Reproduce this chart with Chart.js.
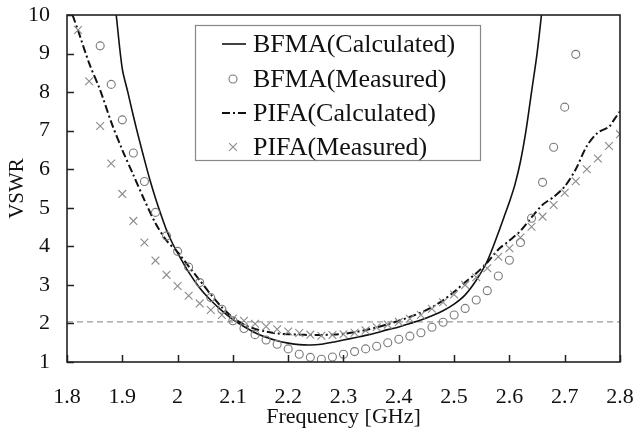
<!DOCTYPE html>
<html><head><meta charset="utf-8">
<script src="https://cdn.jsdelivr.net/npm/chart.js@4/dist/chart.umd.min.js"></script>
<style>html,body{margin:0;padding:0;background:#fff;}canvas{display:block;}</style>
</head><body>
<canvas id="c" width="637" height="434"></canvas>
<script>
const xTickValues = [1.8,1.9,2.0,2.1,2.2,2.3,2.4,2.5,2.6,2.7,2.8];
const xTickLabels = ['1.8','1.9','2','2.1','2.2','2.3','2.4','2.5','2.6','2.7','2.8'];
const yTickValues = [1,2,3,4,5,6,7,8,9,10];
const yTickLabels = ['1','2','3','4','5','6','7','8','9','10'];
const seriesLabels = ['BFMA(Calculated)','BFMA(Measured)','PIFA(Calculated)','PIFA(Measured)'];
const xTitle = 'Frequency [GHz]';
const yTitle = 'VSWR';

const bfmaCalcFreq = [1.889,1.90,1.91,1.92,1.93,1.94,1.95,1.96,1.97,1.98,1.99,2.00,2.02,2.04,2.06,2.08,2.10,2.12,2.14,2.16,2.18,2.20,2.22,2.24,2.26,2.28,2.30,2.32,2.34,2.36,2.38,2.40,2.42,2.44,2.46,2.48,2.50,2.52,2.54,2.56,2.58,2.59,2.60,2.61,2.62,2.63,2.64,2.65,2.658];
const bfmaCalcVswr = [10.0,8.6,8.0,7.38,6.8,6.25,5.72,5.25,4.82,4.42,4.1,3.83,3.33,2.92,2.6,2.33,2.1,1.92,1.76,1.64,1.55,1.49,1.45,1.44,1.46,1.51,1.57,1.63,1.69,1.76,1.84,1.91,2.0,2.09,2.2,2.33,2.5,2.74,3.12,3.62,4.35,4.75,5.15,5.6,6.2,7.0,8.0,9.0,10.0];

const bfmaMeasFreq = [1.86,1.88,1.90,1.92,1.94,1.96,1.98,2.00,2.02,2.04,2.06,2.08,2.10,2.12,2.14,2.16,2.18,2.20,2.22,2.24,2.26,2.28,2.30,2.32,2.34,2.36,2.38,2.40,2.42,2.44,2.46,2.48,2.50,2.52,2.54,2.56,2.58,2.60,2.62,2.64,2.66,2.68,2.70,2.72];
const bfmaMeasVswr = [9.2,8.2,7.28,6.42,5.68,4.88,4.27,3.87,3.46,3.06,2.67,2.37,2.07,1.87,1.71,1.57,1.46,1.34,1.2,1.12,1.07,1.13,1.2,1.27,1.34,1.41,1.5,1.59,1.67,1.76,1.9,2.03,2.22,2.39,2.61,2.85,3.23,3.64,4.1,4.73,5.66,6.57,7.61,8.98];

const pifaCalcFreq = [1.81,1.82,1.84,1.86,1.88,1.90,1.92,1.94,1.96,1.98,2.00,2.02,2.04,2.06,2.08,2.10,2.12,2.14,2.16,2.18,2.20,2.22,2.24,2.26,2.28,2.30,2.32,2.34,2.36,2.38,2.40,2.42,2.44,2.46,2.48,2.50,2.52,2.54,2.56,2.58,2.60,2.62,2.64,2.66,2.68,2.70,2.72,2.74,2.76,2.78,2.79,2.80];
const pifaCalcVswr = [10.0,9.6,8.75,8.05,7.22,6.5,5.85,5.2,4.6,4.15,3.85,3.48,3.12,2.75,2.42,2.15,1.97,1.86,1.79,1.74,1.72,1.71,1.7,1.7,1.71,1.73,1.77,1.83,1.9,1.98,2.07,2.17,2.28,2.42,2.6,2.82,3.07,3.3,3.58,3.92,4.15,4.4,4.75,5.08,5.28,5.55,6.0,6.6,6.95,7.1,7.3,7.5];

const pifaMeasFreq = [1.82,1.84,1.86,1.88,1.90,1.92,1.94,1.96,1.98,2.00,2.02,2.04,2.06,2.08,2.10,2.12,2.14,2.16,2.18,2.20,2.22,2.24,2.26,2.28,2.30,2.32,2.34,2.36,2.38,2.40,2.42,2.44,2.46,2.48,2.50,2.52,2.54,2.56,2.58,2.60,2.62,2.64,2.66,2.68,2.70,2.72,2.74,2.76,2.78,2.80];
const pifaMeasVswr = [9.61,8.28,7.12,6.15,5.36,4.66,4.1,3.63,3.26,2.97,2.72,2.52,2.35,2.22,2.13,2.07,1.99,1.92,1.85,1.79,1.75,1.71,1.68,1.7,1.72,1.76,1.82,1.9,1.97,2.04,2.12,2.22,2.38,2.55,2.75,3.0,3.2,3.43,3.73,3.95,4.23,4.51,4.77,5.07,5.39,5.69,6.0,6.28,6.6,6.91];

const refLineFreq = [1.8, 2.8];
const refLineVswr = [2.04, 2.04];

const FONT = 'Liberation Serif';
const toXY = (xs, ys) => xs.map((x, i) => ({x: x, y: ys[i]}));

const decorPlugin = {
  id: 'decor',
  afterDraw(chart) {
    const ctx = chart.ctx;
    const a = chart.chartArea;
    const xs = chart.scales.x, ys = chart.scales.y;
    ctx.save();
    ctx.strokeStyle = '#222';
    ctx.lineWidth = 1.5;
    ctx.beginPath();
    xTickValues.forEach(v => {
      const px = Math.round(xs.getPixelForValue(v)) + 0.5;
      ctx.moveTo(px, a.bottom); ctx.lineTo(px, a.bottom - 7);
    });
    yTickValues.forEach(v => {
      const py = Math.round(ys.getPixelForValue(v)) + 0.5;
      ctx.moveTo(a.left, py); ctx.lineTo(a.left + 7, py);
    });
    ctx.stroke();
    ctx.strokeStyle = '#222';
    ctx.lineWidth = 1.6;
    ctx.strokeRect(a.left, a.top, a.right - a.left, a.bottom - a.top);
    // legend
    const bx = 195, by = 25, bw = 285, bh = 135;
    ctx.fillStyle = '#fff';
    ctx.fillRect(bx, by, bw, bh);
    ctx.strokeStyle = '#888';
    ctx.lineWidth = 1.2;
    ctx.strokeRect(bx + 0.5, by + 0.5, bw, bh);
    const rows = [44, 79, 113, 147];
    ctx.font = '26px "' + FONT + '"';
    ctx.textBaseline = 'middle';
    ctx.textAlign = 'left';
    chart.data.datasets.slice(0, 4).forEach((ds, i) => {
      const ry = rows[i];
      ctx.save();
      if (ds.showLine) {
        ctx.strokeStyle = ds.borderColor;
        ctx.lineWidth = ds.borderWidth;
        ctx.setLineDash(ds.borderDash || []);
        ctx.beginPath();
        ctx.moveTo(222, ry); ctx.lineTo(246, ry);
        ctx.stroke();
      } else {
        ctx.strokeStyle = ds.pointBorderColor;
        ctx.lineWidth = ds.pointBorderWidth;
        ctx.beginPath();
        if (ds.pointStyle === 'circle') {
          ctx.arc(233, ry, ds.pointRadius, 0, Math.PI * 2);
        } else {
          const r = ds.pointRadius * Math.SQRT1_2;
          ctx.moveTo(233 - r, ry - r); ctx.lineTo(233 + r, ry + r);
          ctx.moveTo(233 - r, ry + r); ctx.lineTo(233 + r, ry - r);
        }
        ctx.stroke();
      }
      ctx.restore();
      ctx.fillStyle = '#111';
      ctx.fillText(ds.label, 253, ry + 1);
    });
    ctx.restore();
  }
};

const zeroPad = s => { s.paddingTop = 0; s.paddingBottom = 0; s.paddingLeft = 0; s.paddingRight = 0; };

new Chart(document.getElementById('c'), {
  type: 'scatter',
  data: {
    datasets: [
      {label: seriesLabels[0], data: toXY(bfmaCalcFreq, bfmaCalcVswr), showLine: true, borderColor: '#111', borderWidth: 1.6, pointRadius: 0, tension: 0.3, order: 3},
      {label: seriesLabels[1], data: toXY(bfmaMeasFreq, bfmaMeasVswr), showLine: false, pointStyle: 'circle', pointRadius: 4, pointBorderWidth: 1.1, pointBorderColor: '#7a7a7a', pointBackgroundColor: 'rgba(255,255,255,0)', borderColor: '#7a7a7a', order: 1},
      {label: seriesLabels[2], data: toXY(pifaCalcFreq, pifaCalcVswr), showLine: true, borderColor: '#111', borderWidth: 2, borderDash: [8, 3, 2, 3], pointRadius: 0, tension: 0.3, order: 2},
      {label: seriesLabels[3], data: toXY(pifaMeasFreq, pifaMeasVswr), showLine: false, pointStyle: 'crossRot', pointRadius: 5.5, pointBorderWidth: 1.1, pointBorderColor: '#8a8a8a', borderColor: '#8a8a8a', order: 0},
      {label: 'ref', data: toXY(refLineFreq, refLineVswr), showLine: true, borderColor: '#999', borderWidth: 1.3, borderDash: [6, 4], pointRadius: 0, order: 4}
    ]
  },
  options: {
    responsive: false,
    animation: false,
    devicePixelRatio: 1,
    layout: {padding: {left: 0, top: 15, right: 17, bottom: 0}},
    plugins: {legend: {display: false}, tooltip: {enabled: false}},
    scales: {
      x: {
        type: 'linear', min: 1.8, max: 2.8,
        grid: {display: false, drawTicks: false},
        border: {display: false},
        afterBuildTicks: s => { s.ticks = xTickValues.map(v => ({value: v})); },
        afterFit: s => { s.height = 72; zeroPad(s); },
        ticks: {padding: 22, color: '#111', autoSkip: false, maxRotation: 0, font: {family: FONT, size: 22},
                callback: (v, i) => xTickLabels[i]},
        title: {display: true, text: xTitle, color: '#111', font: {family: FONT, size: 22}, padding: {top: 0, bottom: 4}}
      },
      y: {
        min: 1, max: 10,
        grid: {display: false, drawTicks: false},
        border: {display: false},
        afterBuildTicks: s => { s.ticks = yTickValues.map(v => ({value: v})); },
        afterFit: s => { s.width = 67; zeroPad(s); },
        ticks: {padding: 17, color: '#111', autoSkip: false, font: {family: FONT, size: 22},
                callback: (v, i) => yTickLabels[i]},
        title: {display: true, text: yTitle, color: '#111', font: {family: FONT, size: 21}, padding: {top: 5, bottom: 0}}
      }
    }
  },
  plugins: [decorPlugin]
});
</script>
</body></html>
